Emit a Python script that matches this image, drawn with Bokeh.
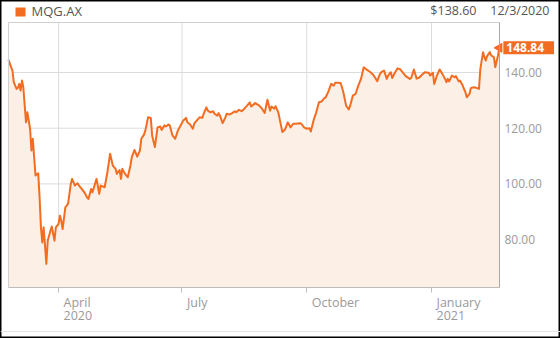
import pandas as pd
from bokeh.plotting import figure
from bokeh.models import (ColumnDataSource, Range1d, FixedTicker, NumeralTickFormatter, Label,
                          BoxAnnotation, Span)
from bokeh.core.properties import value
from bokeh.embed import file_html
from bokeh.resources import INLINE

symbol = "MQG.AX"
header_price = "$138.60"
header_date = "12/3/2020"

dates = [
    "2020-02-24", "2020-02-27", "2020-02-28", "2020-03-01", "2020-03-02", "2020-03-03", "2020-03-04",
    "2020-03-05", "2020-03-06", "2020-03-08", "2020-03-09", "2020-03-11", "2020-03-12", "2020-03-13",
    "2020-03-15", "2020-03-17", "2020-03-18", "2020-03-19", "2020-03-20", "2020-03-21", "2020-03-23",
    "2020-03-24", "2020-03-26", "2020-03-27", "2020-03-29", "2020-03-30", "2020-04-01", "2020-04-02",
    "2020-04-03", "2020-04-04", "2020-04-06", "2020-04-08", "2020-04-10", "2020-04-11", "2020-04-13",
    "2020-04-15", "2020-04-17", "2020-04-20", "2020-04-22",
    "2020-04-23", "2020-04-25", "2020-04-26", "2020-04-29", "2020-05-01", "2020-05-02", "2020-05-05",
    "2020-05-07", "2020-05-09", "2020-05-11", "2020-05-13", "2020-05-14", "2020-05-16", "2020-05-17",
    "2020-05-18", "2020-05-20", "2020-05-22", "2020-05-24", "2020-05-25", "2020-05-27", "2020-05-29",
    "2020-05-31", "2020-06-01", "2020-06-03", "2020-06-04", "2020-06-06", "2020-06-08", "2020-06-09",
    "2020-06-11", "2020-06-13", "2020-06-15", "2020-06-16", "2020-06-18", "2020-06-19", "2020-06-21",
    "2020-06-22", "2020-06-24",
    "2020-06-26", "2020-06-28", "2020-06-30", "2020-07-02", "2020-07-04", "2020-07-05", "2020-07-07",
    "2020-07-09", "2020-07-10", "2020-07-12", "2020-07-14", "2020-07-16", "2020-07-17", "2020-07-19",
    "2020-07-20", "2020-07-22", "2020-07-24", "2020-07-25", "2020-07-27", "2020-07-28", "2020-07-29",
    "2020-07-31", "2020-08-02", "2020-08-03", "2020-08-05", "2020-08-07", "2020-08-09", "2020-08-10",
    "2020-08-12", "2020-08-14", "2020-08-16", "2020-08-18", "2020-08-20", "2020-08-21",
    "2020-08-24", "2020-08-27", "2020-08-29", "2020-08-31", "2020-09-02", "2020-09-04", "2020-09-05",
    "2020-09-07", "2020-09-08", "2020-09-10", "2020-09-12", "2020-09-13", "2020-09-15", "2020-09-17",
    "2020-09-19", "2020-09-21", "2020-09-23", "2020-09-26", "2020-09-27", "2020-09-29", "2020-10-01",
    "2020-10-03", "2020-10-04", "2020-10-06", "2020-10-08", "2020-10-10", "2020-10-12", "2020-10-14",
    "2020-10-15", "2020-10-17", "2020-10-19", "2020-10-21", "2020-10-22",
    "2020-10-24", "2020-10-26", "2020-10-28", "2020-10-30", "2020-11-01", "2020-11-02", "2020-11-04",
    "2020-11-06", "2020-11-08", "2020-11-10", "2020-11-12", "2020-11-14", "2020-11-17", "2020-11-19",
    "2020-11-22", "2020-11-24", "2020-11-25", "2020-11-27", "2020-11-29", "2020-11-30", "2020-12-02",
    "2020-12-03", "2020-12-05", "2020-12-07", "2020-12-09", "2020-12-11", "2020-12-13", "2020-12-16",
    "2020-12-17", "2020-12-19", "2020-12-21", "2020-12-23",
    "2020-12-25", "2020-12-27", "2020-12-30", "2020-12-31", "2021-01-02", "2021-01-03", "2021-01-05",
    "2021-01-07", "2021-01-09", "2021-01-11", "2021-01-12", "2021-01-13", "2021-01-14", "2021-01-16",
    "2021-01-18", "2021-01-19", "2021-01-21", "2021-01-22", "2021-01-24", "2021-01-26", "2021-01-27",
    "2021-01-29", "2021-01-30", "2021-02-01", "2021-02-03", "2021-02-05", "2021-02-06", "2021-02-08",
    "2021-02-09", "2021-02-10", "2021-02-11", "2021-02-13", "2021-02-14", "2021-02-16", "2021-02-17",
    "2021-02-19", "2021-02-20",
]

close = [
    144.6, 140.7, 136.5, 134.1, 134.5, 135.9, 133.5, 137.1, 134.7, 122.1, 125.7, 119.8, 112.0, 116.2,
    103.0, 103.8, 95.2, 84.4, 79.0, 84.4, 71.3, 79.6, 83.2, 84.7, 79.6, 84.4, 85.6, 88.6, 86.8, 83.8,
    91.6, 92.8, 100.0, 101.8, 99.4, 100.2, 98.8, 97.0, 95.2,
    94.6, 98.2, 97.0, 101.8, 96.4, 99.4, 98.8, 104.2, 110.8, 106.6, 105.4, 103.6, 105.0, 101.8, 105.4,
    103.6, 102.4, 106.6, 109.6, 112.2, 109.8, 112.0, 116.2, 117.7, 119.2, 123.9, 123.7, 117.4, 113.2,
    120.3, 120.6, 119.4, 121.0, 120.6, 121.3, 121.0, 117.4,
    116.2, 119.2, 121.0, 122.8, 123.7, 122.1, 121.3, 119.8, 121.6, 122.8, 123.9, 123.7, 125.2, 127.5,
    126.3, 125.7, 126.1, 125.2, 124.5, 125.4, 124.5, 121.8, 123.9, 125.2, 124.9, 125.4, 126.1, 125.7,
    126.6, 126.1, 127.0, 128.1, 129.3, 127.8,
    129.0, 128.1, 127.0, 125.5, 130.2, 126.3, 127.8, 127.0, 127.9, 125.7, 121.0, 118.6, 119.5, 122.1,
    120.3, 121.6, 121.6, 121.8, 121.6, 120.3, 119.8, 120.0, 118.8, 122.8, 125.7, 129.3, 129.6, 130.8,
    131.1, 133.2, 135.9, 135.3, 136.3,
    136.3, 136.2, 132.9, 128.1, 126.7, 128.1, 131.7, 132.3, 135.3, 137.7, 141.9, 141.1, 140.1, 139.2,
    136.9, 139.5, 140.1, 140.7, 137.7, 138.9, 140.1, 138.0, 139.9, 141.5, 141.1, 139.9, 138.7, 137.7,
    138.0, 141.1, 137.8, 138.2,
    139.2, 140.1, 139.9, 138.9, 139.9, 135.9, 138.9, 141.1, 139.5, 137.7, 136.5, 137.7, 136.8, 138.9,
    138.3, 138.7, 136.8, 137.1, 135.3, 132.9, 131.1, 132.3, 134.4, 134.7, 134.5, 134.1, 141.3, 147.3,
    145.5, 144.3, 145.9, 147.3, 146.1, 145.5, 141.9, 146.1, 148.84,
]

y_ticks = [80, 100, 120, 140]
x_tick_dates = ["2020-04-01", "2020-07-01", "2020-10-01", "2021-01-01"]
x_tick_labels = ["April\n2020", "July", "October", "January\n2021"]

# visible chart window (plot area) and the whole canvas window
chart_start, chart_end = "2020-02-24 02:00", "2021-02-20 03:00"
canvas_start, canvas_end = "2020-02-18 04:25", "2021-04-06 02:30"
Y0, Y1 = 62.80, 157.95          # plot area bottom / top
YC0, YC1 = 44.49, 165.85        # canvas bottom / top

ORANGE = "#f26d21"
FILL = "#fcf0e6"
FONT = "Open Sans"
GRAY_TXT = "#9a9a9a"
GRID = "#dcdcdc"


def ms(d):
    return pd.Timestamp(d).value / 1e6


src = ColumnDataSource(dict(date=pd.to_datetime(dates), close=close))

p = figure(width=560, height=338, x_axis_type="datetime",
           x_axis_location="below", y_axis_location="right",
           x_range=Range1d(ms(canvas_start), ms(canvas_end)),
           y_range=Range1d(YC0, YC1),
           output_backend="svg", toolbar_location=None, min_border=0,
           background_fill_color="white", border_fill_color="white",
           outline_line_color="black", outline_line_width=2)
p.xgrid.visible = False
p.ygrid.visible = False

xs_t = pd.to_datetime(x_tick_dates)
t0, t1 = pd.Timestamp(chart_start), pd.Timestamp(chart_end)

# grid lines limited to the plot area
p.segment(x0=[t0] * len(y_ticks), x1=[t1] * len(y_ticks), y0=y_ticks, y1=y_ticks,
          line_color=GRID, line_width=1)
p.segment(x0=xs_t, x1=xs_t, y0=[Y0] * len(xs_t), y1=[Y1] * len(xs_t),
          line_color=GRID, line_width=1)

# area + line
p.varea(x="date", y1=Y0, y2="close", source=src, fill_color=FILL)
p.line(x="date", y="close", source=src, line_color=ORANGE, line_width=2, line_join="round")

# plot-area border (top and left)
p.segment(x0=[t0, t0], x1=[t1, t0], y0=[Y1, Y0], y1=[Y1, Y1], line_color="#d0d0d0", line_width=1)

# x axis drawn at the bottom of the plot area
xt = [ms(d) for d in x_tick_dates]
xa = p.xaxis[0]
xa.fixed_location = Y0
xa.bounds = (ms(chart_start), ms(chart_end))
xa.ticker = FixedTicker(ticks=xt)
xa.major_label_overrides = {t: "" for t in xt}
xa.major_tick_out = 5
xa.major_tick_in = 0
xa.minor_tick_out = 0
xa.minor_tick_in = 0
xa.axis_line_color = "#bdbdbd"
xa.major_tick_line_color = "#bdbdbd"

p.text(x=xs_t, y=[Y0] * len(xs_t), text=x_tick_labels, x_offset=5, y_offset=6,
       text_align="left", text_baseline="top", text_font=value(FONT),
       text_font_size=value("12.5px"), text_color=GRAY_TXT, text_line_height=0.77)

# y axis drawn at the right edge of the plot area
ya = p.yaxis[0]
ya.fixed_location = ms(chart_end)
ya.bounds = (Y0, Y1)
ya.ticker = FixedTicker(ticks=y_ticks)
ya.formatter = NumeralTickFormatter(format="0.00")
ya.major_tick_out = 0
ya.major_tick_in = 0
ya.minor_tick_out = 0
ya.minor_tick_in = 0
ya.axis_line_color = "#a8a8a8"
ya.major_label_standoff = 5
ya.major_label_text_color = GRAY_TXT
ya.major_label_text_font = FONT
ya.major_label_text_font_size = "12px"

# last-price callout
last_dt = pd.Timestamp(dates[-1])
last_y = close[-1]
p.scatter(x=[last_dt], y=[last_y], marker="triangle", angle=90, angle_units="deg",
          size=9, color=ORANGE)
p.add_layout(Label(x=ms(dates[-1]), y=last_y, x_offset=4, text=f"{last_y:.2f}", text_align="left",
                   text_baseline="middle", text_font=FONT, text_font_size="12px",
                   text_font_style="bold", text_color="white",
                   background_fill_color=ORANGE,
                   padding=dict(left=3, right=10, top=2, bottom=2)))

# header
p.add_layout(BoxAnnotation(left=15, right=25, bottom=322, top=331,
                           left_units="screen", right_units="screen",
                           bottom_units="screen", top_units="screen",
                           fill_color=ORANGE, fill_alpha=1.0, line_color=None))
p.add_layout(Label(x=31, y=327.5, x_units="screen", y_units="screen", text=symbol,
                   text_font=FONT, text_font_size="13px", text_color="#555555",
                   text_baseline="alphabetic"))
p.add_layout(Label(x=476, y=328, x_units="screen", y_units="screen", text=header_price,
                   text_font=FONT, text_font_size="12.5px", text_color="#555555",
                   text_baseline="alphabetic", text_align="right"))
p.add_layout(Label(x=549, y=328, x_units="screen", y_units="screen", text=header_date,
                   text_font=FONT, text_font_size="12.5px", text_color="#555555",
                   text_baseline="alphabetic", text_align="right"))

# footer separator
p.add_layout(Span(location=7, location_units="screen", dimension="width",
                  line_color="#e4e4e4", line_width=1))

open("out.html", "w").write(file_html(p, INLINE))
